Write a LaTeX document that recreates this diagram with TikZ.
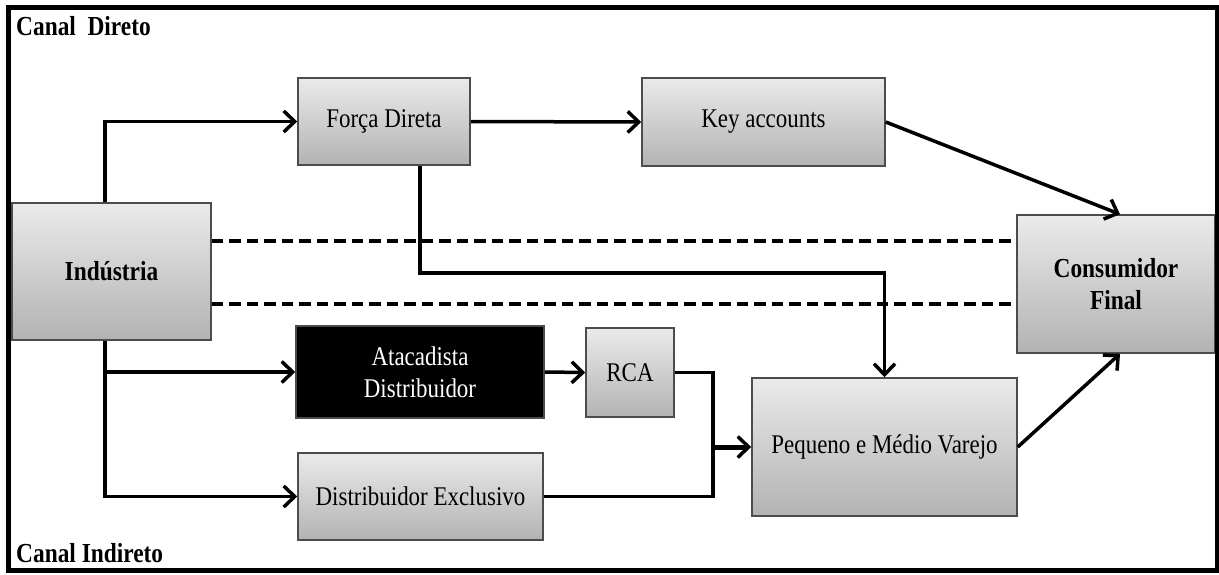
\documentclass[tikz,border=0pt]{standalone}
\usepackage{fontspec}
\setmainfont[FakeStretch=0.85]{Liberation Serif}
\usetikzlibrary{arrows.meta,calc}

\begin{document}
\begin{tikzpicture}[x=1pt,y=-1pt,
    caixa/.style={draw=black!70,line width=1.5pt,top color=black!8,bottom color=black!30,
      align=center,font=\fontsize{27}{32}\selectfont},
    negrito/.style={font=\fontsize{27.5}{32}\selectfont\bfseries},
    seta/.style={line width=3.5pt,-{Straight Barb[length=11pt,width=21pt,line width=3.5pt]}},
    linha/.style={line width=3.5pt},
    tracejado/.style={line width=4pt,dash pattern=on 11.5pt off 6pt},
    rotulo/.style={anchor=west,inner sep=0pt,font=\fontsize{27.5}{30}\selectfont\bfseries}]
  \useasboundingbox (0,0) rectangle (1219,574);
  % caixas
  \node[caixa,negrito,minimum width=199pt,minimum height=137pt] (ind) at (111.5,271.5) {Indústria};
  \node[caixa,minimum width=172pt,minimum height=87pt] (forca) at (384,121.5) {Força Direta};
  \node[caixa,minimum width=243pt,minimum height=88pt] (key) at (763.5,122) {Key accounts};
  \node[caixa,negrito,minimum width=198pt,minimum height=138pt] (cons) at (1116,284) {Consumidor\\Final};
  \node[caixa,top color=black,bottom color=black,text=white,minimum width=248pt,minimum height=92pt] (atac) at (420,372) {Atacadista\\Distribuidor};
  \node[caixa,minimum width=88pt,minimum height=89pt] (rca) at (630,372.5) {RCA};
  \node[caixa,minimum width=245pt,minimum height=87pt] (dexc) at (420.5,496.5) {Distribuidor Exclusivo};
  \node[caixa,minimum width=265pt,minimum height=138pt] (peq) at (884.5,447) {Pequeno e Médio Varejo};
  % canal direto
  \draw[seta] ([xshift=-6.5pt]ind.north) |- (forca.west);
  \draw[seta] (forca.east) -- (key.west);
  \draw[seta] (key.east) -- ([xshift=4pt]cons.north);
  \draw[seta] ([xshift=36pt]forca.south) -- ++(0,107) -| (peq.north);
  \draw[tracejado] ([yshift=31pt]ind.east) -- ([yshift=31pt]ind.east -| cons.west);
  \draw[tracejado] ([yshift=-32pt]ind.east) -- ([yshift=-32pt]ind.east -| cons.west);
  % canal indireto
  \draw[seta] ([xshift=-6.5pt]ind.south) |- (atac.west);
  \draw[seta] ([xshift=-6.5pt]ind.south) |- (dexc.west);
  \draw[seta] (atac.east) -- (rca.west);
  \coordinate (junta) at (713,447);
  \draw[linha] (rca.east) -| (junta);
  \draw[linha] (dexc.east) -| (junta);
  \draw[seta,line width=5pt] (junta) -- (peq.west);
  \draw[seta] (peq.east) -- ([xshift=4pt]cons.south);
  % moldura
  \draw[line width=5pt] (8.5,7.5) rectangle (1217,570);
  \node[rotulo] (cdir) at (16,26) {Canal\ \ Direto};
  \node[rotulo] (cind) at (16,553) {Canal Indireto};
\end{tikzpicture}
\end{document}
